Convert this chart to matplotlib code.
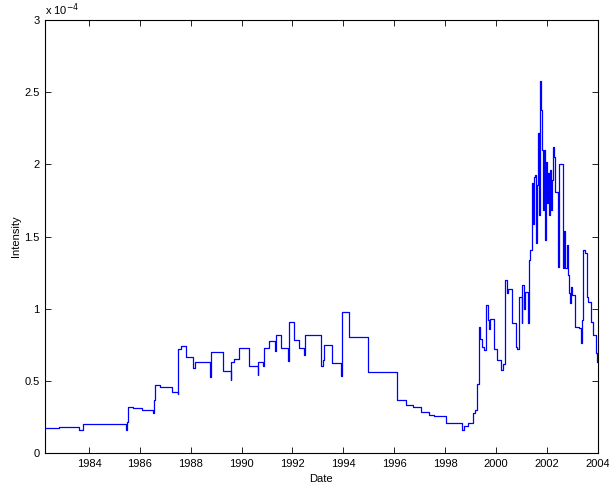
import numpy as np
import matplotlib.pyplot as plt

plt.rcParams['font.family'] = ['Liberation Sans', 'DejaVu Sans']

# step start dates (decimal years) and intensity levels (x 1e-4)
dates = [1982.27, 1982.82, 1983.62, 1983.75, 1985.44, 1985.49, 1985.52, 1985.74,
         1986.10, 1986.53, 1986.57, 1986.61, 1986.79, 1987.28, 1987.49, 1987.51,
         1987.61, 1987.80, 1988.08, 1988.17, 1988.76, 1988.79, 1989.26, 1989.57,
         1989.60, 1989.71, 1989.89, 1990.30, 1990.63, 1990.66, 1990.85, 1990.88,
         1991.09, 1991.31, 1991.34, 1991.55, 1991.83, 1991.85, 1992.07, 1992.27,
         1992.45, 1992.48, 1993.11, 1993.19, 1993.23, 1993.56, 1993.91, 1993.95,
         1994.21, 1994.96, 1996.12, 1996.47, 1996.73, 1997.04, 1997.36, 1997.57,
         1998.04, 1998.67, 1998.75, 1998.92, 1999.09, 1999.19, 1999.27, 1999.32,
         1999.39, 1999.45, 1999.53, 1999.60, 1999.69, 1999.74, 1999.76, 1999.94,
         2000.06, 2000.20, 2000.29, 2000.35, 2000.43, 2000.46, 2000.62, 2000.78,
         2000.84, 2000.91, 2001.02, 2001.04, 2001.11, 2001.13, 2001.27, 2001.29,
         2001.34, 2001.41, 2001.44, 2001.50, 2001.54, 2001.58, 2001.60, 2001.64,
         2001.70, 2001.73, 2001.77, 2001.81, 2001.84, 2001.89, 2001.93, 2001.96,
         2002.00, 2002.04, 2002.08, 2002.13, 2002.17, 2002.21, 2002.23, 2002.29,
         2002.32, 2002.43, 2002.47, 2002.63, 2002.65, 2002.69, 2002.73, 2002.79,
         2002.85, 2002.89, 2002.93, 2002.95, 2002.98, 2003.11, 2003.26, 2003.34,
         2003.37, 2003.44, 2003.50, 2003.60, 2003.63, 2003.73, 2003.81, 2003.94,
         2003.97, 2004.00]
intensity = [0.171, 0.178, 0.159, 0.199, 0.160, 0.217, 0.316, 0.310,
             0.300, 0.280, 0.370, 0.470, 0.460, 0.420, 0.410, 0.720,
             0.740, 0.665, 0.587, 0.630, 0.530, 0.700, 0.568, 0.505,
             0.628, 0.650, 0.725, 0.605, 0.540, 0.628, 0.600, 0.730,
             0.775, 0.710, 0.817, 0.730, 0.640, 0.905, 0.780, 0.730,
             0.680, 0.817, 0.605, 0.645, 0.748, 0.625, 0.533, 0.974,
             0.805, 0.559, 0.365, 0.332, 0.318, 0.282, 0.261, 0.256,
             0.210, 0.159, 0.187, 0.205, 0.279, 0.298, 0.478, 0.870,
             0.787, 0.736, 0.713, 1.027, 0.920, 0.860, 0.930, 0.722,
             0.644, 0.575, 0.614, 1.198, 1.110, 1.136, 0.898, 0.736,
             0.720, 1.078, 0.898, 1.163, 0.995, 1.117, 0.898, 1.337,
             1.406, 1.868, 1.590, 1.913, 1.925, 1.452, 1.856, 2.214,
             1.648, 2.578, 2.375, 2.098, 1.683, 2.098, 1.475, 2.017,
             1.729, 1.937, 1.648, 1.960, 1.683, 1.891, 2.117, 2.052,
             1.810, 1.290, 2.000, 1.544, 1.279, 1.540, 1.279, 1.440,
             1.233, 1.106, 1.037, 1.152, 1.094, 0.875, 0.864, 0.760,
             0.921, 1.406, 1.383, 1.083, 1.048, 0.909, 0.817, 0.690,
             0.632, 0.632]

xticks = list(range(1984, 2005, 2))
yticks = [0, 0.5, 1, 1.5, 2, 2.5, 3]
ytick_labels = ['0', '0.5', '1', '1.5', '2', '2.5', '3']

fig = plt.figure(figsize=(6.09, 4.88), dpi=100)
ax = fig.add_axes([0.0739, 0.0717, 0.9074, 0.8873])

# MATLAB-style stairs plot
ax.step(dates, intensity, where='post', color='#0000ff', lw=0.9)

ax.set_xlim(1982.27, 2004)
ax.set_ylim(0, 3)
ax.set_xticks(xticks)
ax.set_yticks(yticks)
ax.set_yticklabels(ytick_labels)
ax.tick_params(direction='in', top=True, right=True, labelsize=8, length=4, width=0.6, pad=4)
for s in ax.spines.values():
    s.set_linewidth(0.8)

ax.text(0.0, 1.005, r'x 10$^{-4}$', transform=ax.transAxes, fontsize=8, ha='left', va='bottom')
ax.set_xlabel('Date', fontsize=8, labelpad=4)
ax.set_ylabel('Intensity', fontsize=8, labelpad=2)

fig.savefig('out.png', dpi=100)
